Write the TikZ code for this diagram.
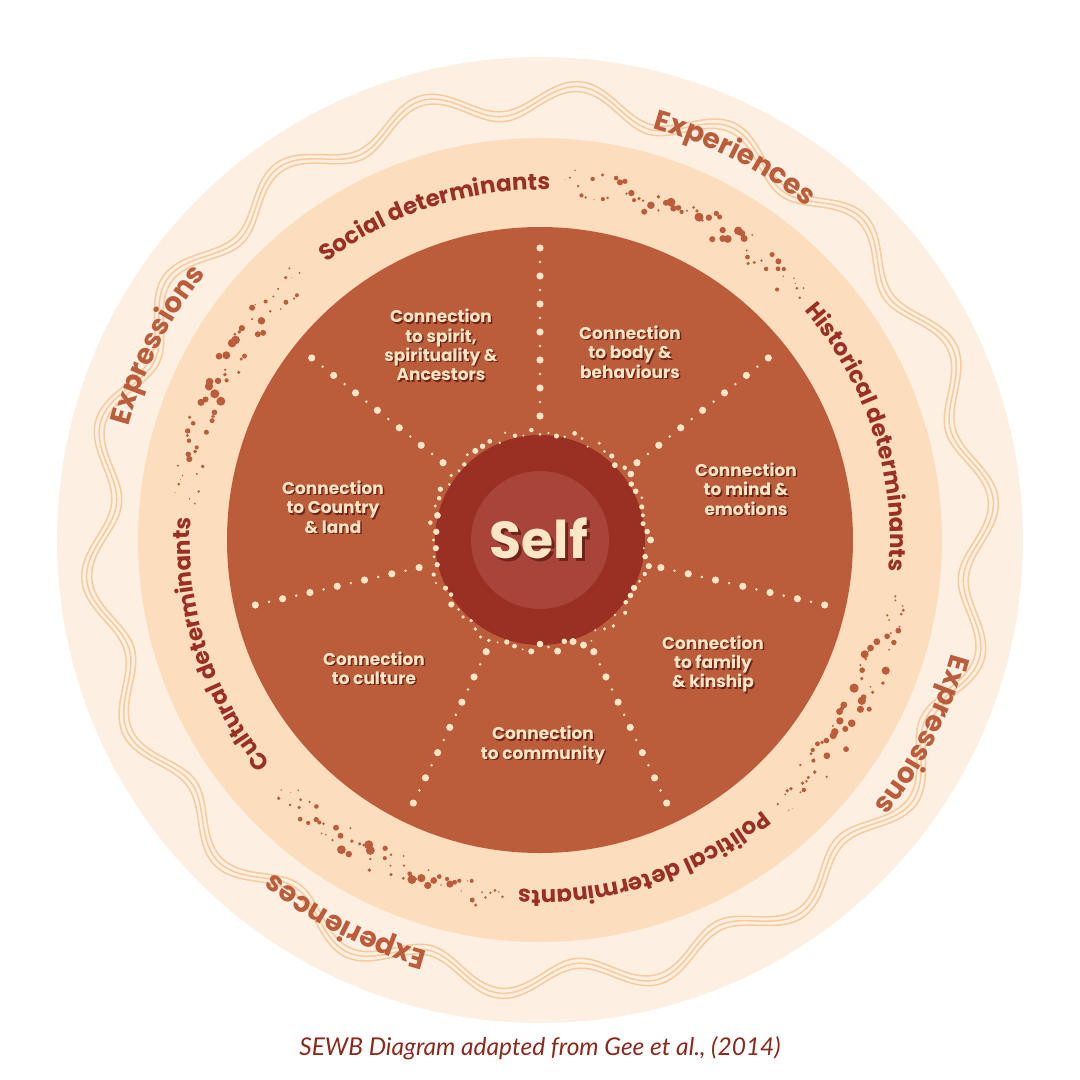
\documentclass[tikz,border=0pt]{standalone}
\usepackage{fontspec}
\setmainfont{Poppins}
\newfontfamily\captionfont{Lato}
\usetikzlibrary{decorations.text}
\definecolor{paleout}{HTML}{FDF0E2}
\definecolor{peach}{HTML}{FCDDBD}
\definecolor{rust}{HTML}{BB5C3A}
\definecolor{oxblood}{HTML}{9A3023}
\definecolor{selfred}{HTML}{A8443A}
\definecolor{cream}{HTML}{FDE6C6}
\definecolor{shade}{HTML}{6E2418}
\definecolor{wavy}{HTML}{F8CA9C}
\definecolor{captred}{HTML}{8A2A1C}
\newcommand\detfont{\fontsize{23}{25}\selectfont\bfseries}
\newcommand\expfont{\fontsize{28}{30}\selectfont\bfseries}
\newcommand\linknode[3]{%
  \node[link, text=shade] at ([shift={(1.5,-1.5)}]#2) {#3};
  \node[link] (#1) at (#2) {#3};}
\tikzset{
  link/.style={text=cream, align=center, inner sep=0pt,
    font=\fontsize{17}{19.3}\selectfont\bfseries},
  selftext/.style={font=\fontsize{52}{60}\selectfont\bfseries, inner sep=0pt},
  ringtext/.style={decorate, decoration={text along path, text align=center}},
  wave/.style={draw=wavy, line width=1.5pt},
}
\begin{document}
\begin{tikzpicture}[x=1pt, y=1pt]
\useasboundingbox (-540,-540) rectangle (540,540);
\fill[paleout] (0,0) circle[radius=483];
\foreach \o in {-5,0,5}
  \draw[wave] plot[domain=0:360, samples=721, smooth] (\x:{440+\o+15*sin(18*\x)});
\fill[peach] (0,0) circle[radius=402];
\fill[rust] (0,0) circle[radius=313];
\fill[oxblood] (0,0) circle[radius=105];
\fill[selfred] (0,0) circle[radius=69];

\foreach \k in {0,...,6}
  \foreach \j in {0,...,12} {
    \pgfmathsetmacro\rr{124+14*\j}
    \pgfmathsetmacro\s{ifthenelse(mod(\j,2)==0,3.6,1.4)}
    \fill[cream] (90-\k*360/7:\rr) circle[radius=\s];
  }
\pgfmathsetseed{11}
\foreach \i in {0,...,79} {
  \pgfmathsetmacro\rr{104+rnd*10}
  \pgfmathsetmacro\s{1+rnd*2.6}
  \fill[cream] (\i*4.5:\rr) circle[radius=\s];
}
\foreach \a/\b in {43/86, -48/-9, -136/-96, 132/174}
  \foreach \i in {0,...,60} {
    \pgfmathsetmacro\t{\a+(\b-\a)*\i/60}
    \pgfmathsetmacro\rr{358+rnd*28-14}
    \pgfmathsetmacro\s{(1+rnd*3.8)*(0.35+0.65*sin(180*\i/60))}
    \fill[rust] (\t:\rr) circle[radius=\s];
  }

\path[ringtext, decoration={text color=oxblood, text={|\detfont|Social determinants}}]
  (143:350) arc[start angle=143, end angle=73, radius=350];
\path[ringtext, decoration={text color=oxblood, text={|\detfont|Historical determinants}}]
  (53:350) arc[start angle=53, end angle=-17, radius=350];
\path[ringtext, decoration={text color=oxblood, text={|\detfont|Political determinants}}]
  (-37:350) arc[start angle=-37, end angle=-107, radius=350];
\path[ringtext, decoration={text color=oxblood, text={|\detfont|Cultural determinants}}]
  (-127:350) arc[start angle=-127, end angle=-197, radius=350];

\path[ringtext, decoration={text color=rust, text={|\expfont|Experiences}}]
  (85:427) arc[start angle=85, end angle=41, radius=427];
\path[ringtext, decoration={text color=rust, text={|\expfont|Expressions}}]
  (175:427) arc[start angle=175, end angle=131, radius=427];
\path[ringtext, decoration={text color=rust, text={|\expfont|Expressions}}]
  (-5:427) arc[start angle=-5, end angle=-49, radius=427];
\path[ringtext, decoration={text color=rust, text={|\expfont|Experiences}}]
  (-95:427) arc[start angle=-95, end angle=-139, radius=427];

\node[selftext, text=shade] at (2,-1) {Self};
\node[selftext, text=cream] (self) at (-1,2) {Self};

\linknode{spirit}{-99,195}{Connection\\to spirit,\\spirituality \&\\Ancestors}
\linknode{body}{90,188}{Connection\\to body \&\\behaviours}
\linknode{mind}{206,51}{Connection\\to mind \&\\emotions}
\linknode{family}{173,-124}{Connection\\to family\\\& kinship}
\linknode{community}{3,-205}{Connection\\to community}
\linknode{culture}{-166,-128}{Connection\\to culture}
\linknode{country}{-207,33}{Connection\\to Country\\\& land}

\node[text=captred, font=\captionfont\itshape\fontsize{24.5}{28}\selectfont] (caption) at (0,-508)
  {SEWB Diagram adapted from Gee et al., (2014)};
\end{tikzpicture}
\end{document}
